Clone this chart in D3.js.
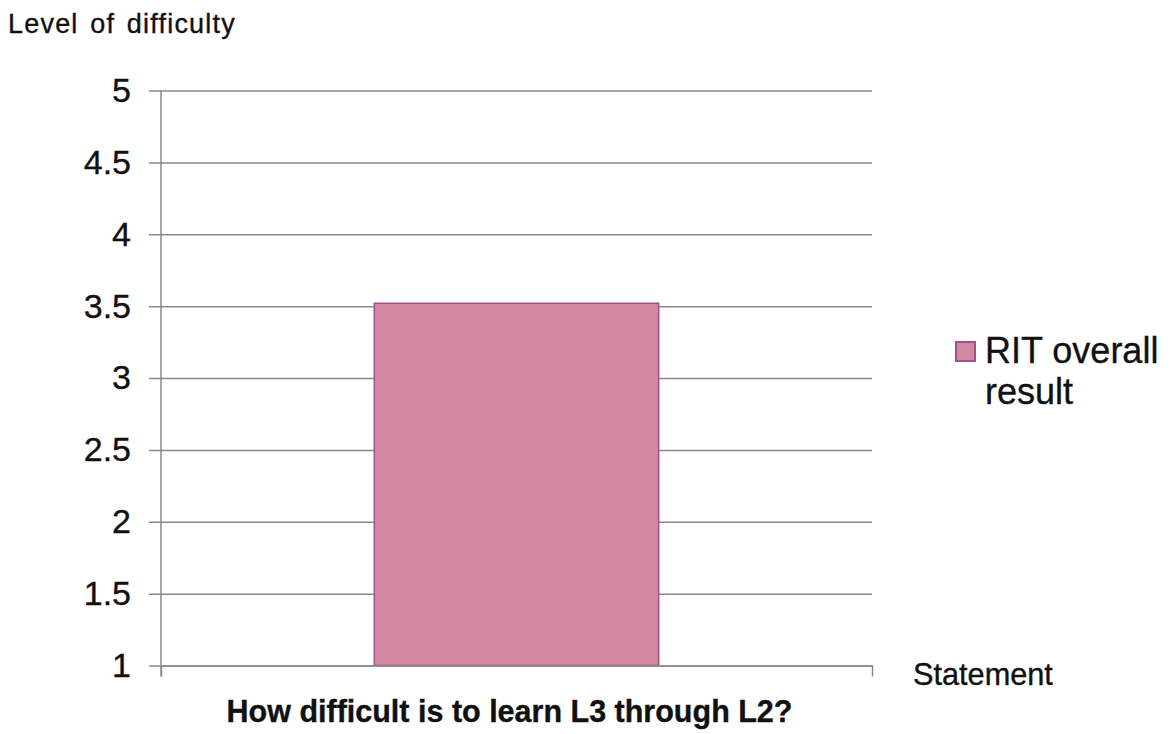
<!DOCTYPE html>
<html>
<head>
<meta charset="utf-8">
<script src="https://cdn.jsdelivr.net/npm/d3@7"></script>
<style>
	body { margin: 0; background: #fff; }
	svg text { font-family: "Liberation Sans", Arial, sans-serif; fill: #111; stroke: #111; stroke-width: 0.35; }
</style>
</head>
<body>
<div id="chart"></div>
<script>

var categories = ['How difficult is to learn L3 through L2?']
var series_names = ['RIT overall result']
var series_values = [3.52]
var y_ticks = [1, 1.5, 2, 2.5, 3, 3.5, 4, 4.5, 5]
var y_title = 'Level of difficulty'
var x_title = 'Statement'

var Chart = ((document, d3) => {

	var width = 1175,
		height = 734,
		left = 161,
		right = 872,
		top = 90.5,
		bottom = 665.5

	var svg = d3.select('#chart')
		.append('svg')
		.attr('width', width)
		.attr('height', height)

	var x = d3.scaleBand()
		.domain(categories)
		.range([left, right])
		.paddingInner(0)
		.paddingOuter(0.75)

	var y = d3.scaleLinear()
		.domain([1, 5])
		.range([bottom, top])

	// gridlines + tick labels
	svg.append('g')
		.attr('transform', 'translate(' + left + ',0)')
		.call(d3.axisLeft(y)
			.tickValues(y_ticks)
			.tickSize(-(right - left))
			.tickSizeOuter(0)
			.tickPadding(30)
			.tickFormat(d => d))
		.call(g => g.select('.domain').remove())
		.call(g => g.selectAll('.tick line')
			.attr('x1', -12)
			.attr('stroke', '#8a8a8a')
			.attr('stroke-width', 1.5))
		.call(g => g.selectAll('.tick text')
			.attr('font-size', 34)
			.attr('fill', '#111'))

	// bars
	svg.append('g')
		.selectAll('rect')
		.data(series_values)
		.join('rect')
			.attr('x', (d, i) => x(categories[i]))
			.attr('y', d => y(d))
			.attr('width', x.bandwidth())
			.attr('height', d => y(1) - y(d))
			.attr('fill', '#d487a1')
			.attr('stroke', '#a0528c')
			.attr('stroke-width', 1.5)

	// axis lines
	svg.append('line')
		.attr('x1', left).attr('x2', left)
		.attr('y1', top).attr('y2', bottom + 11)
		.attr('stroke', '#8a8a8a')
		.attr('stroke-width', 1.5)

	svg.append('g')
		.attr('transform', 'translate(0,' + bottom + ')')
		.call(d3.axisBottom(x)
			.tickValues([])
			.tickSizeOuter(11))
		.call(g => g.select('.domain')
			.attr('stroke', '#8a8a8a')
			.attr('stroke-width', 1.5))

	// category label (sits a little left of the band centre)
	svg.append('text')
		.attr('x', x(categories[0]) + x.bandwidth() / 2 - 7)
		.attr('y', 722)
		.attr('text-anchor', 'middle')
		.attr('font-size', 30.5)
		.attr('font-weight', 'bold')
		.text(categories[0])

	// axis titles
	svg.append('text')
		.attr('x', 8)
		.attr('y', 33)
		.attr('font-size', 27)
		.attr('letter-spacing', 1.2)
		.attr('word-spacing', 3)
		.text(y_title)

	svg.append('text')
		.attr('x', 913)
		.attr('y', 685)
		.attr('font-size', 30.7)
		.text(x_title)

	// legend
	var legend = svg.append('g')
		.attr('transform', 'translate(956,342)')

	legend.append('rect')
		.attr('width', 19)
		.attr('height', 19)
		.attr('fill', '#d487a1')
		.attr('stroke', '#a0528c')
		.attr('stroke-width', 2)

	legend.append('text')
		.attr('y', 21)
		.attr('font-size', 36)
		.selectAll('tspan')
		.data(['RIT overall', 'result'])
		.join('tspan')
			.attr('x', 29)
			.attr('dy', (d, i) => i ? 41 : 0)
			.text(d => d)

	return { svg : svg }

})(document, d3)

</script>
</body>
</html>
